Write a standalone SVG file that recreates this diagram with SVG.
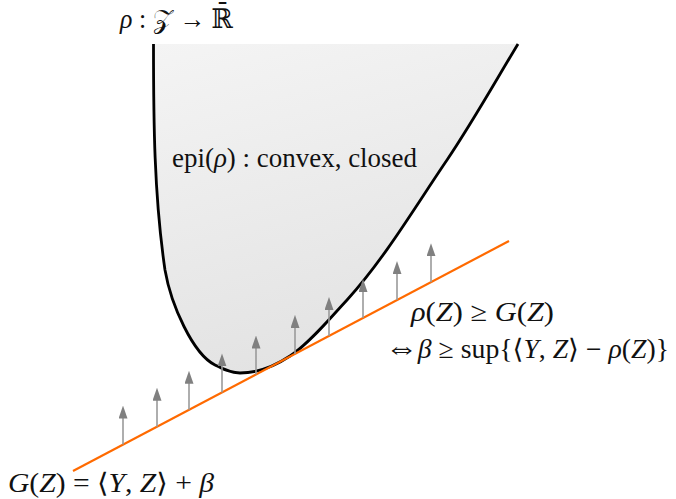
<svg xmlns="http://www.w3.org/2000/svg" width="676" height="499" viewBox="0 0 676 499">
<style>
  .t { font-family: "Liberation Serif", "DejaVu Serif", serif; font-size: 27px; fill: #111; }
  .i { font-style: italic; }
  .big { font-size: 32px; }
  .arrow { stroke: #9a9a9a; stroke-width: 1.6; fill: none; marker-end: url(#ah); }
</style>
<defs>
  <linearGradient id="g" x1="0" y1="0" x2="0.3" y2="1">
    <stop offset="0" stop-color="#f4f4f4"/>
    <stop offset="1" stop-color="#e3e3e3"/>
  </linearGradient>
  <marker id="ah" markerUnits="userSpaceOnUse" markerWidth="13" markerHeight="9" refX="6.5" refY="4.5" orient="auto" viewBox="0 0 13 9">
    <path d="M0,0 L13,4.5 L0,9 z" fill="#808080"/>
  </marker>
</defs>
<g id="epigraph">
  <path d="M153.5,44 C153.5,120 154,195 165,270 C171,305 193,354 215,365 C223,369 231,373 240,373 C258,373 275,366 290,356 C309,344 332,316 347,300 C385,258 415,207 447,160 C472,123 495,82 518,44 Z" fill="url(#g)" stroke="none"/>
  <path d="M153.5,44 C153.5,120 154,195 165,270 C171,305 193,354 215,365 C223,369 231,373 240,373 C258,373 275,366 290,356 C309,344 332,316 347,300 C385,258 415,207 447,160 C472,123 495,82 518,44" fill="none" stroke="#000" stroke-width="2.8"/>
</g>
<g id="connectors">
  <line x1="73" y1="471" x2="509" y2="241" stroke="#ff6a00" stroke-width="2.2"/>
  <line class="arrow" x1="123" y1="444.6" x2="123" y2="412.1"/>
  <line class="arrow" x1="157" y1="426.7" x2="157" y2="394.2"/>
  <line class="arrow" x1="189" y1="409.8" x2="189" y2="377.3"/>
  <line class="arrow" x1="222" y1="392.4" x2="222" y2="359.9"/>
  <line class="arrow" x1="256" y1="374.5" x2="256" y2="342.0"/>
  <line class="arrow" x1="295" y1="353.9" x2="295" y2="321.4"/>
  <line class="arrow" x1="329" y1="336.0" x2="329" y2="303.5"/>
  <line class="arrow" x1="363" y1="318.0" x2="363" y2="285.5"/>
  <line class="arrow" x1="397" y1="300.1" x2="397" y2="267.6"/>
  <line class="arrow" x1="431" y1="282.2" x2="431" y2="249.7"/>
</g>
<g id="labels">
  <text class="t" x="120" y="28" textLength="113" lengthAdjust="spacingAndGlyphs"><tspan class="i">ρ</tspan> : 𝒵 → ℝ̄</text>
  <text class="t" x="172" y="167" textLength="245" lengthAdjust="spacingAndGlyphs">epi(<tspan class="i">ρ</tspan>) : convex, closed</text>
  <text class="t" x="411" y="321" textLength="143" lengthAdjust="spacingAndGlyphs"><tspan class="i">ρ</tspan>(<tspan class="i">Z</tspan>) ≥ <tspan class="i">G</tspan>(<tspan class="i">Z</tspan>)</text>
  <text class="t" x="385" y="358" textLength="284" lengthAdjust="spacingAndGlyphs"><tspan class="big">⇔</tspan><tspan class="i">β</tspan> ≥ sup{⟨<tspan class="i">Y</tspan>, <tspan class="i">Z</tspan>⟩ − <tspan class="i">ρ</tspan>(<tspan class="i">Z</tspan>)}</text>
  <text class="t" x="8" y="492" textLength="206" lengthAdjust="spacingAndGlyphs"><tspan class="i">G</tspan>(<tspan class="i">Z</tspan>) = ⟨<tspan class="i">Y</tspan>, <tspan class="i">Z</tspan>⟩ + <tspan class="i">β</tspan></text>
</g>
</svg>
